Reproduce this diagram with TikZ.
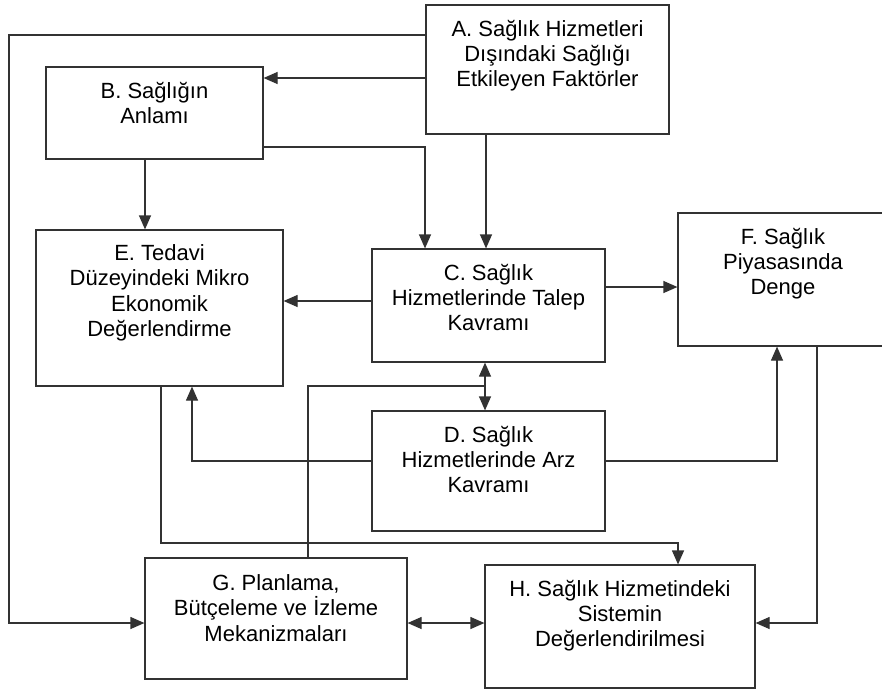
\documentclass[tikz,border=0pt]{standalone}
\usepackage{fontspec}
\setmainfont{Liberation Sans}
\usetikzlibrary{arrows.meta, positioning}
\definecolor{linegray}{RGB}{50, 50, 50}

\tikzset{
  box/.style={draw=linegray, line width=0.6pt, inner sep=0pt},
  boxtext/.style={align=center, inner sep=0pt, font=\fontsize{11}{12.6}\selectfont},
  link/.style={draw=linegray, line width=0.6pt},
}

\begin{document}
\begin{tikzpicture}[x=0.5pt, y=-0.5pt, >={Triangle[length=7pt, width=6pt]}]
  \useasboundingbox (0,0) rectangle (882,691);

  % ===== kutular =====
  \node[box, minimum width=121.5pt, minimum height=64.5pt] (A) at (547.5,69.5) {};
  \node[box, minimum width=108.5pt, minimum height=46pt] (B) at (154.5,113) {};
  \node[box, minimum width=123.5pt, minimum height=78pt] (E) at (159.5,308) {};
  \node[box, minimum width=116.5pt, minimum height=56.5pt] (C) at (488.5,305.5) {};
  \node[box, minimum width=105pt, minimum height=66.5pt] (F) at (783,279.5) {};
  \node[box, minimum width=116.5pt, minimum height=60pt] (D) at (488.5,471) {};
  \node[box, minimum width=131pt, minimum height=60.5pt] (G) at (276,618.5) {};
  \node[box, minimum width=135pt, minimum height=61.5pt] (H) at (620,626.5) {};

  % metinler
  \node[boxtext, below=7.5pt of A.north] (At) {A. Sağlık Hizmetleri\\Dışındaki Sağlığı\\Etkileyen Faktörler};
  \node[boxtext, below=7.5pt of B.north] (Bt) {B. Sağlığın\\Anlamı};
  \node[boxtext, below=7.5pt of E.north] (Et) {E. Tedavi\\Düzeyindeki Mikro\\Ekonomik\\Değerlendirme};
  \node[boxtext, below=7.5pt of C.north] (Ct) {C. Sağlık\\Hizmetlerinde Talep\\Kavramı};
  \node[boxtext, below=7.5pt of F.north] (Ft) {F. Sağlık\\Piyasasında\\Denge};
  \node[boxtext, below=7.5pt of D.north] (Dt) {D. Sağlık\\Hizmetlerinde Arz\\Kavramı};
  \node[boxtext, below=8.5pt of G.north] (Gt) {G. Planlama,\\Bütçeleme ve İzleme\\Mekanizmaları};
  \node[boxtext, below=7.5pt of H.north] (Ht) {H. Sağlık Hizmetindeki\\Sistemin\\Değerlendirilmesi};

  % ===== oklar =====
  \draw[link, ->] (A.west |- 0,78) -- (B.east |- 0,78);
  \draw[link, ->] (A.west |- 0,35) -- (9,35) |- (G.west |- 0,623);
  \draw[link, ->] (A.south -| 486,0) -- (C.north -| 486,0);
  \draw[link, ->] (B.east |- 0,147) -| (C.north -| 425,0);
  \draw[link, ->] (B.south -| 145,0) -- (E.north -| 145,0);
  \draw[link, ->] (C.west |- 0,301) -- (E.east |- 0,301);
  \draw[link, ->] (C.east |- 0,287) -- (F.west |- 0,287);
  \draw[link, <->] (C.south -| 485,0) -- (D.north -| 485,0);

  % G'den C-D hattina
  \coordinate (CD) at (485,386);
  \draw[link] (G.north -| 308,0) |- (CD);

  \draw[link, ->] (D.west |- 0,461) -| (E.south -| 192,0);
  \draw[link, ->] (D.east |- 0,461) -| (F.south -| 777,0);
  \draw[link, ->] (E.south -| 161,0) |- (678,543) -- (H.north -| 678,0);
  \draw[link, <->] (G.east |- 0,623) -- (H.west |- 0,623);
  \draw[link, ->] (F.south -| 817,0) |- (H.east |- 0,623);
\end{tikzpicture}
\end{document}
